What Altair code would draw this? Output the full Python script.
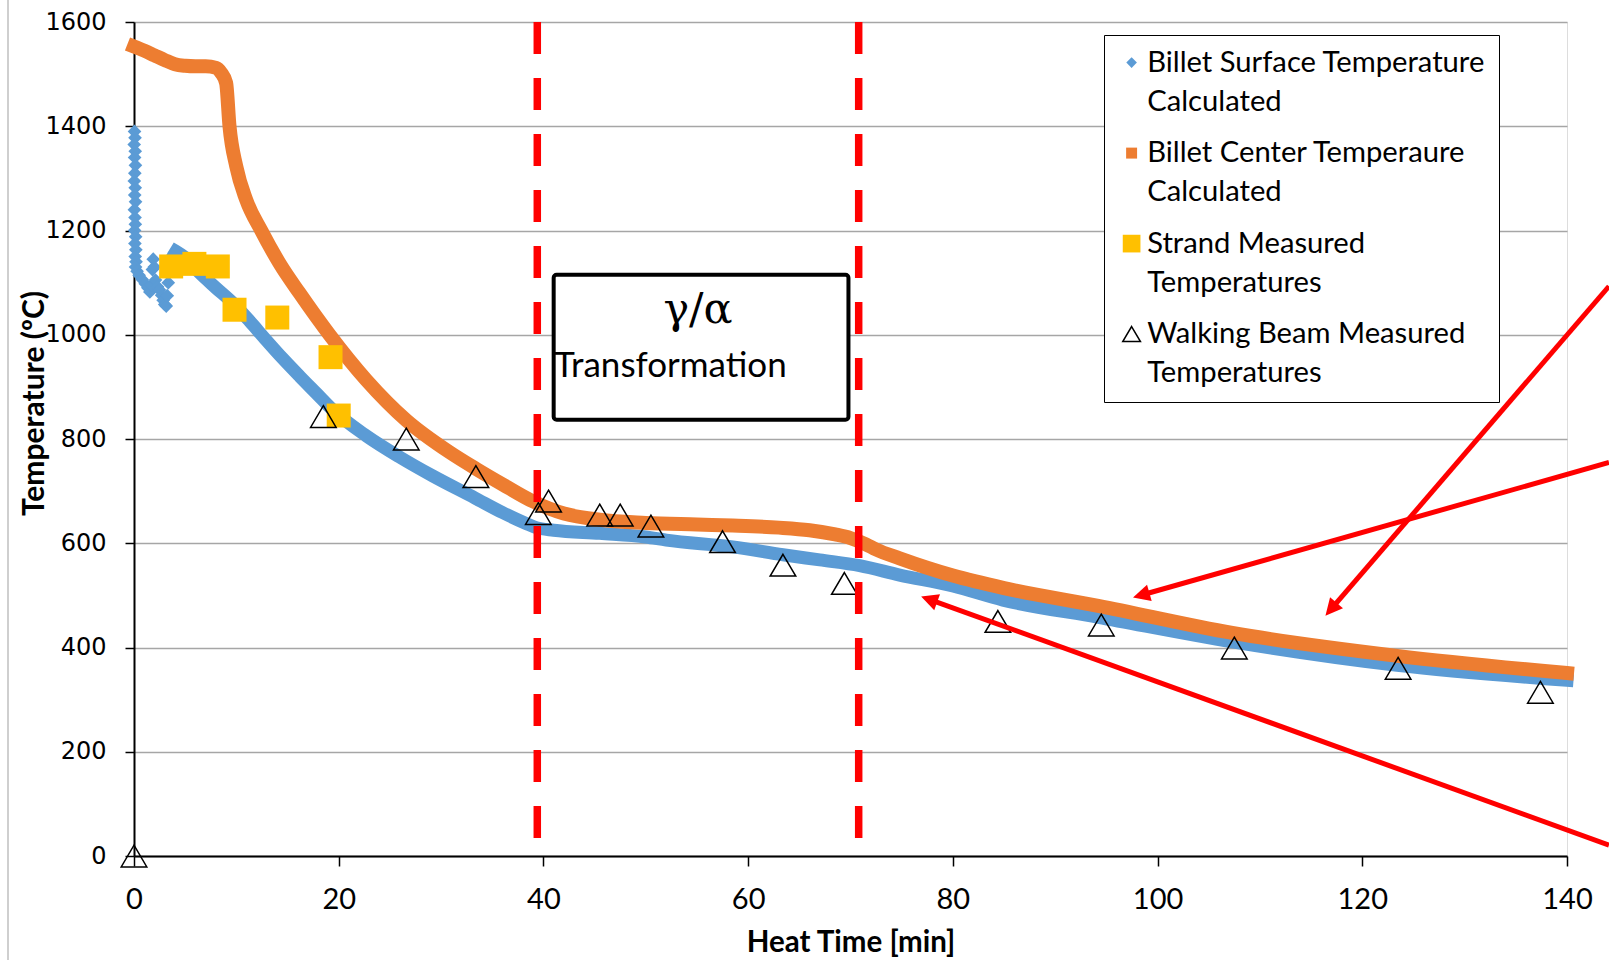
import math
import altair as alt
import pandas as pd

# ---------------- data ----------------
S_SURF = "Billet Surface Temperature Calculated"
S_CENT = "Billet Center Temperaure Calculated"
S_STRAND = "Strand Measured Temperatures"
S_BEAM = "Walking Beam Measured Temperatures"
SERIES = [S_SURF, S_CENT, S_STRAND, S_BEAM]

# billet surface temperature, continuous part (min, degC)
surf_t = [4.1, 5.0, 6.4, 8.0, 9.65, 11.3, 12.9, 14.5, 16.2, 17.8, 19.4, 22.7, 25.9, 29.2,
          33.3, 36.0, 38.3, 39.3, 41.0, 45.5, 50.0, 52.0, 58.5, 63.4, 67.0, 70.9,
          74.8, 80.0, 84.9, 94.2, 107.3, 123.4, 140.0]
surf_T = [1160, 1148, 1119, 1090, 1061, 1026, 990, 955, 920, 888, 856, 806, 766, 729,
          687, 659, 638, 630, 625, 619, 612, 606, 593, 578, 568, 557,
          539, 518, 491, 458, 411, 366, 337]

# billet surface temperature, early scattered markers
diam_t = [0.05, 0.10, 0.02, 0.12, 0.06, 0.14, 0.08, 0.03, 0.12, 0.07, 0.15, 0.04, 0.10, 0.13,
          0.06, 0.16, 0.09, 0.18, 0.12, 0.20, 0.15, 0.30, 0.50, 0.80, 1.10, 1.35, 1.55, 1.70,
          1.80, 1.88, 1.98, 2.10, 2.30, 2.50, 2.70, 2.85, 3.00, 3.15, 3.25, 3.35, 3.45, 3.60,
          3.80, 4.00]
diam_T = [1390, 1378, 1365, 1352, 1340, 1325, 1310, 1295, 1282, 1268, 1255, 1240, 1225, 1212,
          1200, 1188, 1175, 1163, 1150, 1140, 1130, 1122, 1114, 1106, 1098, 1090, 1082, 1095,
          1125, 1145, 1130, 1105, 1092, 1086, 1076, 1066, 1058, 1055, 1075, 1100, 1125, 1142,
          1153, 1158]

# billet center temperature
cent_t = [0, 1, 2, 3, 4, 5, 6, 7, 8.03, 8.5, 9.0, 9.33, 9.99, 10.96, 12.43, 14.22, 16.17,
          19.1, 22.7, 26.6, 30.8, 33.4, 36.0, 39.0, 42.0, 45.5, 50.0, 55.0,
          58.5, 63.0, 66.0, 68.5, 70.0, 71.5, 72.5, 74.8, 80.0, 85.0, 94.2, 107.3, 123.4, 140.0]
cent_T = [1553, 1545, 1536, 1527, 1519, 1516, 1515, 1515, 1512, 1503, 1483, 1400, 1323, 1259,
          1200, 1137, 1080, 1000, 913, 836, 775, 743, 713, 680, 657, 645, 639, 636,
          634, 630, 625, 617, 610, 598, 588, 571, 538, 514, 480, 428, 384, 351]

strand_t = [3.63, 5.9, 8.19, 9.82, 14.0, 19.2, 20.0]
strand_T = [1131, 1136, 1131, 1048, 1033, 957, 845]

beam_t = [0, 18.5, 26.6, 33.4, 39.5, 40.5, 45.5, 47.5, 50.5, 57.5, 63.4, 69.4, 84.4, 94.5,
          107.5, 123.5, 137.4]
beam_T = [0, 843, 800, 728, 657, 681, 654, 654, 633, 603, 558, 523, 450, 443, 399, 360, 314]

# transformation zone boundaries
zone_t = [39.4, 70.8]

# annotation box and texts
box_t, box_t2, box_T, box_T2 = [41.0], [69.8], [1115], [837]
gamma_t, gamma_T, gamma_txt = [55.1], [1047], ["γ/α"]
trans_t, trans_T, trans_txt = [41.05], [919], ["Transformation"]

# red arrows (start outside plot -> tip)
arrow_t0 = [144.1, 144.1, 144.1]
arrow_T0 = [1093, 755, 21]
arrow_t1 = [116.4, 97.6, 76.9]
arrow_T1 = [461, 496, 498]

# ---------------- styling ----------------
W, H = 1433, 834
XPX, YPX = W / 140.0, H / 1600.0
BLUE, ORANGE, YELLOW, RED = "#5b9bd5", "#ed7d31", "#ffc000", "#ff0000"

xs = alt.Scale(domain=[0, 140], nice=False, zero=False)
ys = alt.Scale(domain=[0, 1600], nice=False, zero=False)

x_axis = alt.Axis(values=list(range(0, 141, 20)), title="Heat Time [min]", grid=False,
                  domainColor="black", domainWidth=2, tickColor="black", tickWidth=1.5,
                  tickSize=10, labelFont="Lato", labelFontSize=29, labelColor="black",
                  labelPadding=33, labelBaseline="middle", labelFlush=False, format="d",
                  titleFont="Lato", titleFontSize=29.5, titleFontWeight="bold", titleColor="black",
                  titleY=86, titleBaseline="middle")
y_axis = alt.Axis(values=list(range(0, 1601, 200)), title="Temperature (ºC)", grid=True,
                  gridColor="#a6a6a6", gridWidth=1.3, domainColor="black", domainWidth=2,
                  tickColor="black", tickWidth=1.5, tickSize=9, labelFont="DejaVu Sans",
                  labelFontSize=24, labelColor="black", labelPadding=19, labelFlush=False,
                  format="d",
                  titleFont="Lato", titleFontSize=30, titleFontWeight="bold", titleColor="black",
                  titleX=-100, titleY=381, titleAngle=270, titleAlign="center",
                  titleBaseline="middle")

X = lambda f: alt.X(f, type="quantitative", scale=xs, axis=x_axis)
Y = lambda f: alt.Y(f, type="quantitative", scale=ys, axis=y_axis)

legend = alt.Legend(title=None, orient="none", legendX=970, legendY=13, padding=13,
                    strokeColor="black", fillColor="white", symbolSize=313,
                    symbolStrokeWidth=1.5, labelFont="Lato", labelFontSize=29.2,
                    labelColor="black", labelOffset=1, labelLimit=0, rowPadding=21.5,
                    labelExpr="[substring(datum.label, 0, lastindexof(datum.label, ' ')), "
                              "substring(datum.label, lastindexof(datum.label, ' ') + 1)]")

shapes = ["M0,-0.6L0.6,0L0,0.6L-0.6,0Z",
          "M-0.62,-0.62L0.62,-0.62L0.62,0.62L-0.62,0.62Z",
          "M-1,-1L1,-1L1,1L-1,1Z",
          "M0,-0.85L1,0.85L-1,0.85Z"]
fill_enc = alt.Fill("series:N", scale=alt.Scale(domain=SERIES, range=[BLUE, ORANGE, YELLOW, "transparent"]), legend=legend)
stroke_enc = alt.Stroke("series:N", scale=alt.Scale(domain=SERIES, range=["transparent", "transparent", "transparent", "black"]), legend=legend)
shape_enc = alt.Shape("series:N", scale=alt.Scale(domain=SERIES, range=shapes), legend=legend)

# ---------------- frames ----------------
df_surf = pd.DataFrame({"t": surf_t, "T": surf_T})
df_cent = pd.DataFrame({"t": cent_t, "T": cent_T})
df_diam = pd.DataFrame({"t": diam_t, "T": diam_T, "series": S_SURF})
df_strand = pd.DataFrame({"t": strand_t, "T": strand_T, "series": S_STRAND})
df_beam = pd.DataFrame({"t": beam_t, "T": beam_T, "series": S_BEAM})
df_zone = pd.DataFrame({"t": zone_t})
df_box = pd.DataFrame({"t": box_t, "t2": box_t2, "T": box_T, "T2": box_T2})
df_gamma = pd.DataFrame({"t": gamma_t, "T": gamma_T, "txt": gamma_txt})
df_trans = pd.DataFrame({"t": trans_t, "T": trans_T, "txt": trans_txt})

rows = []
for a, b, c, d in zip(arrow_t0, arrow_T0, arrow_t1, arrow_T1):
    dx = (c - a) * XPX
    dy = -(d - b) * YPX
    ang = math.atan2(dy, dx)
    back = 10.0
    ex = c - back * math.cos(ang) / XPX
    ey = d + back * math.sin(ang) / YPX
    rows.append({"t0": a, "T0": b, "t1": c, "T1": d, "te": ex, "Te": ey,
                 "ang": math.degrees(ang) % 360})
df_arrow = pd.DataFrame(rows)

# ---------------- layers ----------------
frame = alt.Chart(pd.DataFrame({"k": [0]})).mark_rule(color="#bfbfbf", strokeWidth=1.5).encode(
    x=alt.value(-126), y=alt.value(-22), y2=alt.value(938))

surf_line = alt.Chart(df_surf).mark_line(color=BLUE, strokeWidth=13, interpolate="monotone",
                                          strokeCap="square", strokeJoin="round").encode(
    x=X("t"), y=Y("T"))
cent_line = alt.Chart(df_cent).mark_line(color=ORANGE, strokeWidth=14, interpolate="monotone",
                                          strokeCap="square", strokeJoin="round").encode(
    x=X("t"), y=Y("T"))

def pts(df, size):
    return alt.Chart(df).mark_point(filled=True, opacity=1, strokeWidth=1.5, size=size).encode(
        x=X("t"), y=Y("T"), fill=fill_enc, stroke=stroke_enc, shape=shape_enc)

diam_pts = pts(df_diam, 520)
strand_pts = pts(df_strand, 576)
beam_pts = pts(df_beam, 655)

zone = alt.Chart(df_zone).mark_rule(color=RED, strokeWidth=7.5, strokeDash=[32, 24]).encode(
    x=X("t"))

box = alt.Chart(df_box).mark_rect(fill="white", stroke="black", strokeWidth=4,
                                  cornerRadius=3).encode(
    x=X("t"), x2="t2", y=Y("T"), y2="T2")
gamma = alt.Chart(df_gamma).mark_text(font="DejaVu Serif", fontSize=43, color="black",
                                      align="center", baseline="middle").encode(
    x=X("t"), y=Y("T"), text="txt:N")
trans = alt.Chart(df_trans).mark_text(font="Lato", fontSize=35, color="black",
                                      align="left", baseline="alphabetic").encode(
    x=X("t"), y=Y("T"), text="txt:N")

arrow_lines = alt.Chart(df_arrow).mark_rule(color=RED, strokeWidth=5).encode(
    x=X("t0"), y=Y("T0"), x2="te", y2="Te")
arrow_heads = alt.Chart(df_arrow).mark_point(filled=True, opacity=1, color=RED, size=289,
                                             shape="M0,0L-2,-1L-2,1Z").encode(
    x=X("t1"), y=Y("T1"), angle=alt.Angle("ang:Q", scale=None))

chart = alt.layer(
    frame, surf_line, cent_line, diam_pts, strand_pts, beam_pts, zone,
    box, gamma, trans, arrow_lines, arrow_heads
).properties(
    width=W, height=H,
    autosize=alt.AutoSizeParams(type="none"),
    padding={"left": 134, "top": 22, "right": 42, "bottom": 104},
    background="white",
).configure_view(
    stroke="black", strokeWidth=2
).configure(
    style={"guide-label": {"lineHeight": 39}}
)

chart.save("out.html", embed_options={"renderer": "svg", "actions": False})
